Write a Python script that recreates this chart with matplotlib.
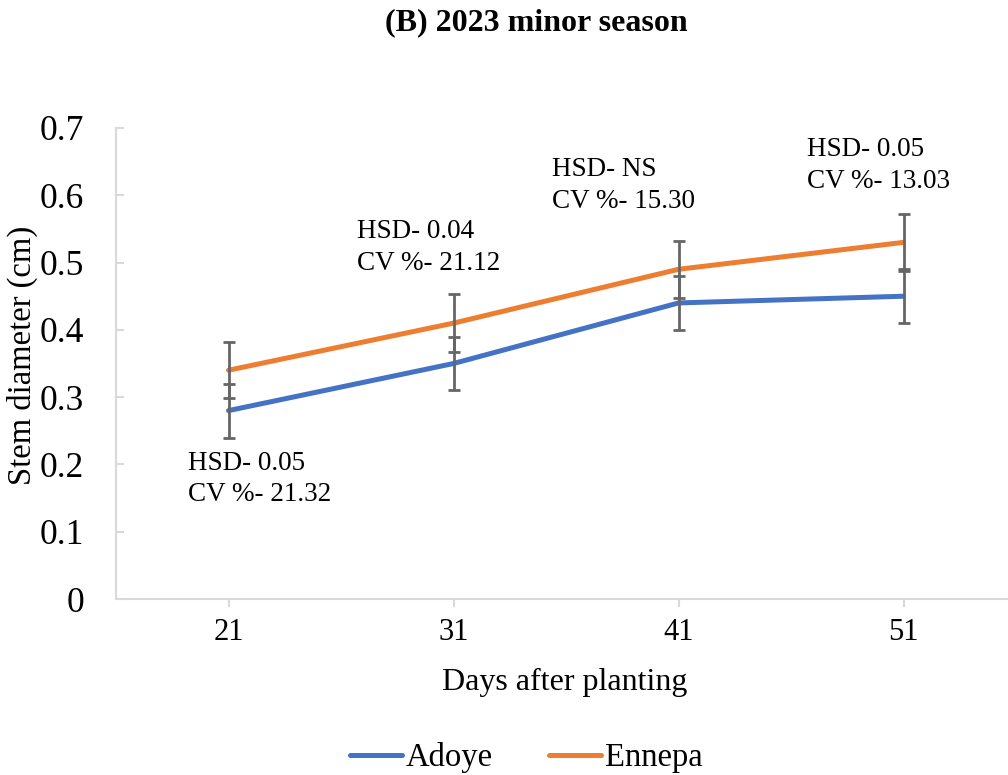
import numpy as np
import matplotlib.pyplot as plt

plt.rcParams['font.family'] = ['Liberation Serif', 'DejaVu Serif']

days = ['21', '31', '41', '51']
adoye = [0.28, 0.35, 0.44, 0.45]
ennepa = [0.34, 0.41, 0.49, 0.53]
adoye_err = [0.04, 0.04, 0.04, 0.04]
ennepa_err = [0.042, 0.043, 0.042, 0.042]
hsd = ['HSD- 0.05', 'HSD- 0.04', 'HSD- NS', 'HSD- 0.05']
cv = ['CV %- 21.32', 'CV %- 21.12', 'CV %- 15.30', 'CV %- 13.03']

W, H = 1008, 775
fig = plt.figure(figsize=(W / 100, H / 100), dpi=100)
ax = fig.add_axes([116 / W, (H - 599) / H, (W - 116) / W, (599 - 128) / H])

x = np.arange(len(days))
ax.plot(x, adoye, color='#4472C4', lw=3.6, label='Adoye', zorder=3, solid_capstyle='round')
ax.plot(x, ennepa, color='#ED7D31', lw=3.6, label='Ennepa', zorder=3, solid_capstyle='round')
for vals, err in [(adoye, adoye_err), (ennepa, ennepa_err)]:
    ax.errorbar(x, vals, yerr=err, fmt='none', ecolor='#666666', elinewidth=2,
                capsize=4.5, capthick=2, zorder=4)

# HSD / CV notes beside each sampling date (baseline of first line, line gap)
note_x = [-0.178, 0.569, 1.436, 2.569]
note_y = [0.192, 0.536, 0.6285, 0.658]
gap = 0.047
for i in range(len(days)):
    ax.text(note_x[i], note_y[i], hsd[i], fontsize=19.5, va='baseline', ha='left')
    ax.text(note_x[i], note_y[i] - gap, cv[i], fontsize=19.5, va='baseline', ha='left')

ax.set_xlim(-0.5, -0.5 + (W - 116) / 225)
ax.set_ylim(0, 0.7)
ax.set_xticks(x)
ax.set_xticklabels(days)
ax.set_yticks(np.arange(0, 0.71, 0.1))
ax.set_yticklabels(['0'] + [f'{v:.1f}' for v in np.arange(0.1, 0.71, 0.1)])
ax.tick_params(axis='y', labelsize=25.5, direction='in', length=6, color='#d9d9d9',
               width=1.5, pad=23)
ax.tick_params(axis='x', labelsize=22, length=6, color='#d9d9d9', width=1.5, pad=8)
for side in ['top', 'right']:
    ax.spines[side].set_visible(False)
for side in ['left', 'bottom']:
    ax.spines[side].set_color('#d9d9d9')
    ax.spines[side].set_linewidth(1.5)

ax.set_xlabel('Days after planting', fontsize=23, va='center')
ax.set_ylabel('Stem diameter (cm)', fontsize=23.5, va='center')
ax.xaxis.set_label_coords(0.5 * (565 * 2 - 232) / (W - 116), -0.178)
ax.yaxis.set_label_coords(-0.105, 0.518)
fig.text(0.532, 0.971, '(B) 2023 minor season', fontsize=23, fontweight='bold',
         ha='center', va='center')

fig.legend(loc='center', bbox_to_anchor=(0.522, 0.022), ncol=2, frameon=False,
           fontsize=23.5, handlelength=1.6, columnspacing=1.7, handletextpad=0.12)

fig.savefig('out.png', dpi=100)
